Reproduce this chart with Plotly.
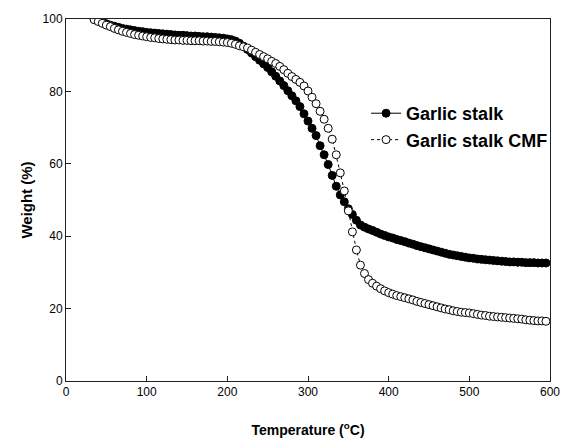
import plotly.graph_objects as go

# Thermogravimetric curves: temperature (°C) vs residual weight (%)
temperature = [35, 40, 45, 50, 55, 60, 65, 70, 75, 80, 85, 90, 95, 100,
               105, 110, 115, 120, 125, 130, 135, 140, 145, 150, 155, 160,
               165, 170, 175, 180, 185, 190, 195, 200, 205, 210, 215, 220,
               225, 230, 235, 240, 245, 250, 255, 260, 265, 270, 275, 280,
               285, 290, 295, 300, 305, 310, 315, 320, 325, 330, 335, 340,
               345, 350, 355, 360, 365, 370, 375, 380, 385, 390, 395, 400,
               405, 410, 415, 420, 425, 430, 435, 440, 445, 450, 455, 460,
               465, 470, 475, 480, 485, 490, 495, 500, 505, 510, 515, 520,
               525, 530, 535, 540, 545, 550, 555, 560, 565, 570, 575, 580,
               585, 590, 595]

weight_stalk = [99.9, 99.5, 99.1, 98.7, 98.3, 98.0, 97.7, 97.4, 97.2, 97.0,
                96.8, 96.6, 96.5, 96.3, 96.2, 96.1, 96.0, 95.9, 95.8, 95.7,
                95.6, 95.5, 95.5, 95.4, 95.3, 95.3, 95.2, 95.1, 95.1, 95.0,
                94.9, 94.8, 94.7, 94.5, 94.3, 93.9, 93.3, 92.5, 91.6, 90.6,
                89.6, 88.6, 87.6, 86.6, 85.4, 84.2, 82.9, 81.6, 80.2, 78.8,
                77.4, 75.8, 73.8, 71.8, 69.8, 67.8, 65.0, 62.5, 59.8, 56.8,
                53.8, 51.4, 49.5, 47.6, 46.0, 44.4, 43.1, 42.5, 42.0, 41.6,
                41.1, 40.6, 40.2, 39.8, 39.5, 39.1, 38.8, 38.5, 38.1, 37.8,
                37.4, 37.1, 36.8, 36.5, 36.2, 35.9, 35.6, 35.3, 35.0, 34.8,
                34.6, 34.4, 34.2, 34.0, 33.9, 33.7, 33.6, 33.5, 33.4, 33.3,
                33.2, 33.1, 33.0, 32.9, 32.9, 32.8, 32.8, 32.7, 32.7, 32.7,
                32.6, 32.6, 32.6]

weight_cmf = [99.8, 99.3, 98.8, 98.3, 97.9, 97.4, 97.0, 96.6, 96.3, 96.0,
              95.7, 95.5, 95.3, 95.1, 94.9, 94.8, 94.6, 94.5, 94.4, 94.3,
              94.2, 94.2, 94.1, 94.1, 94.0, 94.0, 94.0, 93.9, 93.9, 93.8,
              93.8, 93.7, 93.6, 93.5, 93.3, 93.0, 92.6, 92.3, 92.0, 91.4,
              90.8, 90.2, 89.6, 89.0, 88.3, 87.7, 86.9, 86.0, 85.0, 84.1,
              83.3, 82.5, 81.5, 80.1, 78.4, 76.6, 74.5, 72.3, 69.8, 66.8,
              62.5, 57.5, 52.5, 47.0, 41.2, 36.2, 32.0, 29.7, 28.0, 27.0,
              26.2, 25.5, 24.9, 24.4, 24.0, 23.6, 23.3, 23.0, 22.7, 22.4,
              22.0, 21.7, 21.4, 21.1, 20.8, 20.5, 20.2, 19.9, 19.7, 19.4,
              19.2, 19.0, 18.9, 18.8, 18.6, 18.4, 18.2, 18.1, 17.9, 17.8,
              17.7, 17.6, 17.5, 17.4, 17.3, 17.2, 17.1, 16.9, 16.8, 16.7,
              16.6, 16.6, 16.5]

x_ticks = [0, 100, 200, 300, 400, 500, 600]
y_ticks = [0, 20, 40, 60, 80, 100]

FONT = "Liberation Sans, Arial, sans-serif"

fig = go.Figure()
fig.add_trace(go.Scatter(
    x=temperature, y=weight_stalk, mode="lines+markers",
    name="<b>Garlic stalk</b>",
    line=dict(color="black", width=1),
    marker=dict(symbol="circle", size=8, color="black",
                line=dict(color="black", width=1)),
))
fig.add_trace(go.Scatter(
    x=temperature, y=weight_cmf, mode="lines+markers",
    name="<b>Garlic stalk CMF</b>",
    line=dict(color="black", width=1, dash="dot"),
    marker=dict(symbol="circle", size=8, color="white",
                line=dict(color="black", width=1)),
))

axis_common = dict(
    showgrid=False, zeroline=False,
    showline=True, linecolor="#222", linewidth=1, mirror=True,
    ticks="inside", ticklen=5, tickwidth=1, tickcolor="#222",
    tickfont=dict(family=FONT, size=12, color="black"),
)

fig.update_layout(
    width=572, height=447, autosize=False,
    margin=dict(l=66, r=15, t=17, b=66),
    paper_bgcolor="white", plot_bgcolor="white",
    font=dict(family=FONT, color="black"),
    xaxis=dict(range=[0, 600], tickvals=x_ticks,
               title=dict(text="<b>Temperature (<sup>o</sup>C)</b>",
                          font=dict(family=FONT, size=14), standoff=26),
               **axis_common),
    yaxis=dict(range=[0, 100], tickvals=y_ticks,
               title=dict(text="<b>Weight (%)</b>",
                          font=dict(family=FONT, size=15), standoff=6),
               **axis_common),
    legend=dict(x=0.62, y=0.703, xanchor="left", yanchor="middle",
                bgcolor="rgba(0,0,0,0)", borderwidth=0,
                font=dict(family=FONT, size=18, color="black"),
                tracegroupgap=0),
    showlegend=True,
)

fig.write_html("out.html")
